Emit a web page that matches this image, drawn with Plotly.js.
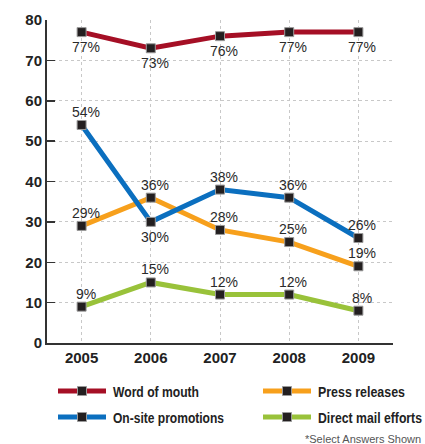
<!DOCTYPE html>
<html>
<head>
<meta charset="utf-8">
<script src="https://cdn.plot.ly/plotly-3.0.1.min.js"></script>
<style>
  html, body { margin: 0; padding: 0; background: #ffffff; }
  #chart { width: 425px; height: 444px; }
</style>
</head>
<body>
<div id="chart"></div>
<script>
// Survey years
const years = [2005, 2006, 2007, 2008, 2009];
const yearLabels = ['2005', '2006', '2007', '2008', '2009'];

// Share of respondents (%) per marketing channel
const wordOfMouth = [77, 73, 76, 77, 77];
const pressReleases = [29, 36, 28, 25, 19];
const onSitePromotions = [54, 30, 38, 36, 26];
const directMail = [9, 15, 12, 12, 8];

const seriesNames = ['Word of mouth', 'Press releases', 'On-site promotions', 'Direct mail efforts'];
const seriesColors = ['#a50f25', '#f7a01c', '#0b6fbf', '#99c23a'];
const footnote = '*Select Answers Shown';

// Value label placement per point: +1 above the marker, -1 below
const labelSide = [
  [-1, -1, -1, -1, -1],
  [1, 1, 1, 1, 1],
  [1, -1, 1, 1, 1],
  [1, 1, 1, 1, 1]
];

const seriesValues = [wordOfMouth, pressReleases, onSitePromotions, directMail];

// Plot area geometry in pixels
const W = 425, H = 444;
const M = { l: 47, r: 32, t: 20, b: 101 };
const plotW = W - M.l - M.r, plotH = H - M.t - M.b;
const px = x => (x - M.l) / plotW;
const py = y => (H - M.b - y) / plotH;

const drawOrder = [3, 1, 2, 0];
const traces = drawOrder.map(i => ({
  type: 'scatter',
  mode: 'lines+markers',
  name: seriesNames[i],
  x: years,
  y: seriesValues[i],
  line: { color: seriesColors[i], width: 5 },
  marker: { symbol: 'square', size: 9, color: '#231f20', line: { color: '#9a9a9a', width: 1 } },
  cliponaxis: false,
  hoverinfo: 'skip',
  showlegend: false
}));

const shapes = [];
const annotations = [];

// Percentage labels next to each marker
const labelFont = { family: 'Liberation Sans, Arial, sans-serif', size: 14, color: '#2a2a2a' };
seriesValues.forEach((vals, i) => {
  vals.forEach((v, j) => {
    const side = labelSide[i][j];
    annotations.push({
      xref: 'x', yref: 'y', x: years[j], y: v,
      text: v + '%', showarrow: false,
      xanchor: 'center', yanchor: 'middle',
      xshift: 4, yshift: side > 0 ? 13 : -15,
      font: labelFont
    });
  });
});

// Hand-built two-column legend beneath the axes
const legendCols = [58, 263];
const legendRows = [391, 417];
const legendSlots = [[0, 0], [1, 0], [0, 1], [1, 1]];
const legendTextWidths = [86, 87, 111, 104];
seriesNames.forEach((name, i) => {
  const [c, r] = legendSlots[i];
  const x0 = legendCols[c], y = legendRows[r];
  shapes.push({
    type: 'line', xref: 'paper', yref: 'paper',
    x0: px(x0), x1: px(x0 + 48), y0: py(y), y1: py(y),
    line: { color: seriesColors[i], width: 5 }
  });
  shapes.push({
    type: 'rect', xref: 'paper', yref: 'paper',
    x0: px(x0 + 19.5), x1: px(x0 + 28.5), y0: py(y - 4.5), y1: py(y + 4.5),
    fillcolor: '#231f20', line: { color: '#9a9a9a', width: 1 }
  });
  annotations.push({
    xref: 'paper', yref: 'paper', x: px(x0 + 55 + legendTextWidths[i] / 2), y: py(y),
    xanchor: 'center', yanchor: 'middle', showarrow: false,
    width: legendTextWidths[i] + 2, borderpad: 0,
    text: name,
    font: { family: 'Liberation Sans, Arial, sans-serif', size: 15, color: '#222222', weight: 'bold' }
  });
});
annotations.push({
  xref: 'paper', yref: 'paper', x: px(423), y: py(439),
  xanchor: 'right', yanchor: 'middle', showarrow: false,
  text: footnote,
  font: { family: 'Liberation Sans, Arial, sans-serif', size: 11, color: '#555555' }
});

const axisFont = { family: 'Liberation Sans, Arial, sans-serif', size: 15, color: '#222222', weight: 'bold' };

const layout = {
  width: W, height: H,
  margin: M,
  paper_bgcolor: '#ffffff',
  plot_bgcolor: '#ffffff',
  showlegend: false,
  xaxis: {
    range: [2004.5, 2009.5],
    tickvals: years,
    ticktext: yearLabels,
    tickfont: axisFont,
    showline: true, linecolor: '#333333', linewidth: 2,
    showgrid: true, gridcolor: '#c8c8c8', gridwidth: 1, griddash: 'dot',
    zeroline: false, ticks: '', fixedrange: true
  },
  yaxis: {
    range: [0, 80],
    dtick: 10,
    tickfont: axisFont,
    ticks: 'inside', ticklen: 8, tickwidth: 1.5, tickcolor: '#333333',
    showline: true, linecolor: '#333333', linewidth: 2,
    showgrid: true, gridcolor: '#c8c8c8', gridwidth: 1, griddash: 'dot',
    zeroline: false, fixedrange: true
  },
  shapes: shapes,
  annotations: annotations
};

Plotly.newPlot('chart', traces, layout, { displayModeBar: false, staticPlot: true }).then(gd => {
  // Narrow the legend captions to a condensed width, anchored at their right edge
  gd.querySelectorAll('text.annotation-text').forEach(t => {
    const k = seriesNames.indexOf(t.textContent);
    if (k >= 0) {
      const w = legendTextWidths[k];
      const cx = parseFloat(t.getAttribute('x')) || 0;
      t.setAttribute('text-anchor', 'end');
      t.setAttribute('x', cx + w / 2);
      t.setAttribute('textLength', w);
      t.setAttribute('lengthAdjust', 'spacingAndGlyphs');
    }
  });
});
</script>
</body>
</html>
